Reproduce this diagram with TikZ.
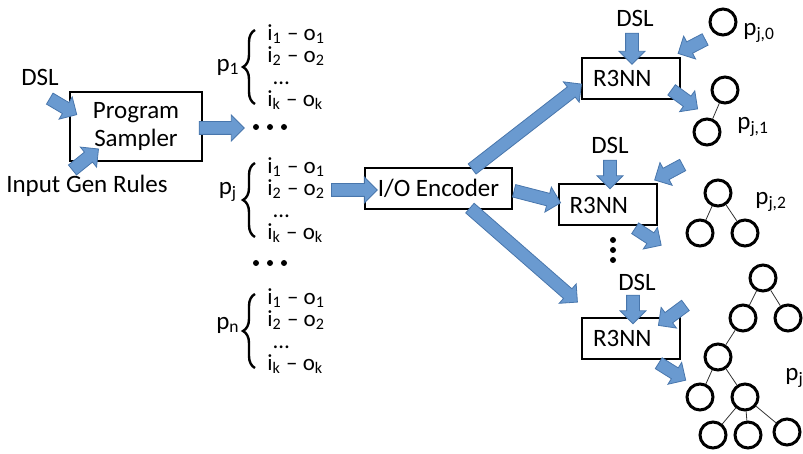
\documentclass[tikz,border=0pt]{standalone}
\usepackage{fontspec}
\setmainfont{Carlito}
\usetikzlibrary{calc,shapes.arrows,decorations.pathreplacing,positioning}
\definecolor{arrowblue}{RGB}{106,154,208}
\definecolor{arrowedge}{RGB}{72,118,172}
\tikzset{
  fatarrow/.style={single arrow, draw=arrowedge, fill=arrowblue, line width=0.4pt,
    inner sep=3pt, outer sep=0pt, minimum width=0pt, single arrow head extend=3.25pt},
  box/.style={draw, line width=1pt, inner sep=0pt, align=center},
  rbox/.style={draw, line width=1pt, text width=38pt, inner xsep=5.5pt, inner ysep=0pt,
    minimum height=20.5pt, align=left},
  ring/.style={circle, draw, line width=1.5pt, minimum size=13pt, inner sep=0pt},
  twig/.style={line width=0.4pt, black!80},
  pairs/.style={font=\fontsize{11.5}{11}\selectfont, align=left, inner sep=0pt, anchor=west},
  curly/.style={decorate, decoration={brace, amplitude=6pt}, line width=1.2pt},
}
\newcommand{\blockarrow}[2]{%
  \coordinate (ba-tail) at (#1);
  \coordinate (ba-head) at (#2);
  \path let \p1=($(ba-head)-(ba-tail)$), \n1={veclen(\x1,\y1)}, \n2={atan2(\y1,\x1)} in
    node[fatarrow, minimum height=\n1, rotate=\n2] at ($(ba-tail)!.5!(ba-head)$) {};}
\newcommand{\iopairs}{i\textsubscript{1} -- o\textsubscript{1}\\
  i\textsubscript{2} -- o\textsubscript{2}\\
  \hspace{3pt}\ldots\\
  i\textsubscript{k} -- o\textsubscript{k}}

\begin{document}
\begin{tikzpicture}[x=0.5pt, y=-0.5pt, font=\fontsize{12.5}{14}\selectfont]
    \useasboundingbox (0,0) rectangle (803,454);
    \clip (0,0) rectangle (803,454);

    % sampler side
    \node (dslA) at (40,77) {DSL};
    \node (rules) at (87,186) {Input Gen Rules};
    \node[box, minimum width=66pt, minimum height=34.5pt] (sampler) at (136,126.5) {Program\\Sampler};

    % sampled programs with their examples
    \node[pairs] (listA) at (267,67) {\iopairs};
    \node[pairs] (listJ) at (267,200) {\iopairs};
    \node[pairs] (listN) at (267,331) {\iopairs};
    \draw[curly] ([shift={(-6pt,-18.5pt)}]listA.west) -- ([shift={(-6pt,18.5pt)}]listA.west);
    \draw[curly] ([shift={(-6pt,-18.5pt)}]listJ.west) -- ([shift={(-6pt,18.5pt)}]listJ.west);
    \draw[curly] ([shift={(-6pt,-18.5pt)}]listN.west) -- ([shift={(-6pt,18.5pt)}]listN.west);
    \node (pA) at (228,67) {p\textsubscript{1}};
    \node (pJ) at (228,192) {p\textsubscript{j}};
    \node (pN) at (228,325) {p\textsubscript{n}};
    \foreach \x in {256,270,284} {
      \fill (\x,127) circle (3);
      \fill (\x,263) circle (3);
    }

    % encoder and R3NN steps
    \node[box, minimum width=73.5pt, minimum height=20.5pt] (encoder) at (438.5,188.5) {I/O Encoder};
    \node[rbox] (rA) at (631,78.5) {R3NN};
    \node[rbox] (rB) at (607.5,205) {R3NN};
    \node[rbox] (rC) at (631,338) {R3NN};
    \node (dslB) at (635,18) {DSL};
    \node (dslC) at (610,145) {DSL};
    \node (dslD) at (637,282) {DSL};
    \foreach \y in {240,250,260}
      \fill (613,\y) circle (3);

    % partial trees
    \node[ring] (t0) at (723,22) {};
    \node[anchor=west, inner sep=0pt] (pj0) at (743,33) {p\textsubscript{j,0}};

    \node[ring] (t1a) at (725,90) {};
    \node[ring] (t1b) at (707,132) {};
    \draw[twig] (t1a) -- (t1b);
    \node[anchor=west, inner sep=0pt] (pj1) at (737,127) {p\textsubscript{j,1}};

    \node[ring] (t2a) at (718,193) {};
    \node[ring] (t2b) at (700,233) {};
    \node[ring] (t2c) at (745,233) {};
    \draw[twig] (t2a) -- (t2b);
    \draw[twig] (t2a) -- (t2c);
    \node[anchor=west, inner sep=0pt] (pj2) at (755,202) {p\textsubscript{j,2}};

    \node[ring] (ta) at (763,278) {};
    \node[ring] (tb) at (743,318) {};
    \node[ring] (tc) at (788,318) {};
    \node[ring] (td) at (718,357) {};
    \node[ring] (te) at (700,397) {};
    \node[ring] (tf) at (745,397) {};
    \node[ring] (tg) at (713,435) {};
    \node[ring] (th) at (748,435) {};
    \node[ring] (ti) at (787,432) {};
    \draw[twig] (ta) -- (tb);
    \draw[twig] (ta) -- (tc);
    \draw[twig] (tb) -- (td);
    \draw[twig] (td) -- (te);
    \draw[twig] (td) -- (tf);
    \draw[twig] (tf) -- (tg);
    \draw[twig] (tf) -- (th);
    \draw[twig] (tf) -- (ti);
    \node[anchor=west, inner sep=0pt] (pj) at (785,378) {p\textsubscript{j}};

    % block arrows
    \blockarrow{$(dslA)+(7,20)$}{$(sampler.west)+(5,-13.5)$}
    \blockarrow{$(rules)+(-17,-14)$}{$(sampler.south west)+(27,-11)$}
    \blockarrow{$(sampler.east)+(-7,1.5)$}{$(sampler.east)+(38,1.5)$}
    \blockarrow{$(listJ.east)+(3,-10)$}{$(encoder.west)+(10,1.5)$}
    \blockarrow{$(encoder.north)+(31,4)$}{$(rA.west)+(-2,7.5)$}
    \blockarrow{$(encoder.east)+(-2,1.5)$}{$(rB.west)+(0,-3)$}
    \blockarrow{$(encoder.south)+(29,-4)$}{$(rC.west)+(-6,-38)$}
    \blockarrow{$(dslB)+(-3,12)$}{$(rA.north)+(1,4)$}
    \blockarrow{$(t0)+(-15,16)$}{$(rA.north east)+(0,-5)$}
    \blockarrow{$(rA.south east)+(-12,-12)$}{$(t1a)+(-30,17)$}
    \blockarrow{$(dslC)+(0,12)$}{$(rB.north)+(2.5,2)$}
    \blockarrow{$(rB.north east)+(28,-20)$}{$(rB.north east)+(0,-5)$}
    \blockarrow{$(rB.south)+(25,0)$}{$(rB.south east)+(1,17)$}
    \blockarrow{$(dslD)+(-4,10)$}{$(rC.north)+(2,4)$}
    \blockarrow{$(rC.north east)+(7,-13)$}{$(rC.north east)+(-20,7)$}
    \blockarrow{$(rC.south east)+(-25,2)$}{$(rC.south east)+(2,19)$}
\end{tikzpicture}
\end{document}
